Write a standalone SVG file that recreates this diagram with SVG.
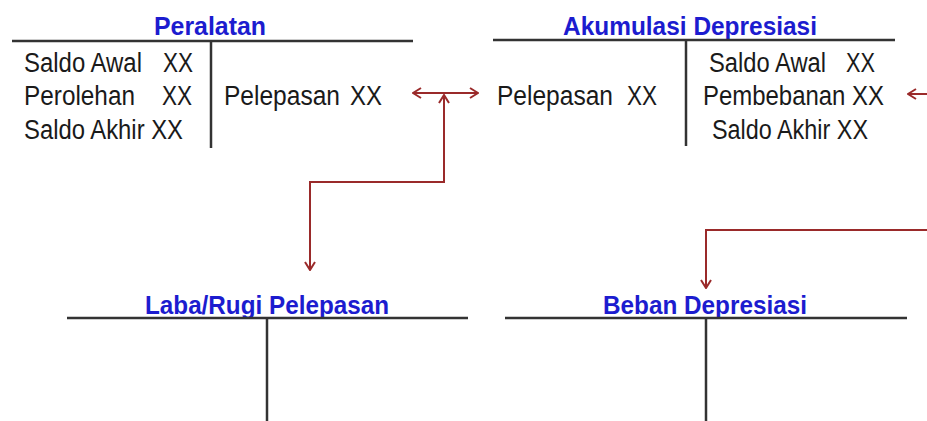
<svg xmlns="http://www.w3.org/2000/svg" width="927" height="421" viewBox="0 0 927 421">
  <style>
    .title { font-family: "Liberation Sans", Arial, sans-serif; font-weight: bold; font-size: 26px; fill: #1c1ccf; }
    .entry { font-family: "Liberation Sans", Arial, sans-serif; font-size: 27px; fill: #1a1a1a; }
    .rule { stroke: #333333; stroke-width: 2.5; fill: none; }
    .flow { stroke: #9a2a2a; stroke-width: 2; fill: none; }
  </style>
  <defs>
    <marker id="head" viewBox="0 0 10 12" refX="9" refY="6" markerWidth="10" markerHeight="12" markerUnits="userSpaceOnUse" orient="auto-start-reverse">
      <path d="M1,1 L9,6 L1,11" fill="none" stroke="#9a2a2a" stroke-width="2"/>
    </marker>
  </defs>
  <rect width="927" height="421" fill="#ffffff"/>

  <!-- T-account: Peralatan -->
  <g id="peralatan">
    <text class="title" x="154" y="35" textLength="112" lengthAdjust="spacingAndGlyphs">Peralatan</text>
    <line class="rule" x1="12" y1="41" x2="413" y2="41"/>
    <line class="rule" x1="211" y1="41" x2="211" y2="148"/>
    <text class="entry" y="72"><tspan x="24" textLength="118" lengthAdjust="spacingAndGlyphs">Saldo Awal</tspan><tspan x="163" textLength="30" lengthAdjust="spacingAndGlyphs">XX</tspan></text>
    <text class="entry" y="105"><tspan x="24" textLength="111" lengthAdjust="spacingAndGlyphs">Perolehan</tspan><tspan x="162" textLength="30" lengthAdjust="spacingAndGlyphs">XX</tspan></text>
    <text class="entry" x="24" y="139" textLength="159" lengthAdjust="spacingAndGlyphs">Saldo Akhir XX</text>
    <text class="entry" y="105"><tspan x="224" textLength="116" lengthAdjust="spacingAndGlyphs">Pelepasan</tspan><tspan x="350" textLength="32" lengthAdjust="spacingAndGlyphs">XX</tspan></text>
  </g>

  <!-- T-account: Akumulasi Depresiasi -->
  <g id="akumulasi-depresiasi">
    <text class="title" x="563" y="35" textLength="254" lengthAdjust="spacingAndGlyphs">Akumulasi Depresiasi</text>
    <line class="rule" x1="493" y1="40" x2="895" y2="40"/>
    <line class="rule" x1="686" y1="40" x2="686" y2="146"/>
    <text class="entry" y="105"><tspan x="497" textLength="116" lengthAdjust="spacingAndGlyphs">Pelepasan</tspan><tspan x="627" textLength="30" lengthAdjust="spacingAndGlyphs">XX</tspan></text>
    <text class="entry" y="72"><tspan x="709" textLength="117" lengthAdjust="spacingAndGlyphs">Saldo Awal</tspan><tspan x="846" textLength="29" lengthAdjust="spacingAndGlyphs">XX</tspan></text>
    <text class="entry" x="703" y="105" textLength="181" lengthAdjust="spacingAndGlyphs">Pembebanan XX</text>
    <text class="entry" x="712" y="139" textLength="156" lengthAdjust="spacingAndGlyphs">Saldo Akhir XX</text>
  </g>

  <!-- T-account: Laba/Rugi Pelepasan -->
  <g id="laba-rugi-pelepasan">
    <text class="title" x="145" y="314" textLength="244" lengthAdjust="spacingAndGlyphs">Laba/Rugi Pelepasan</text>
    <line class="rule" x1="67" y1="318" x2="468" y2="318"/>
    <line class="rule" x1="267" y1="318" x2="267" y2="421"/>
  </g>

  <!-- T-account: Beban Depresiasi -->
  <g id="beban-depresiasi">
    <text class="title" x="603" y="314" textLength="204" lengthAdjust="spacingAndGlyphs">Beban Depresiasi</text>
    <line class="rule" x1="505" y1="318" x2="907" y2="318"/>
    <line class="rule" x1="706" y1="318" x2="706" y2="421"/>
  </g>

  <!-- Posting flows between accounts -->
  <g id="connectors">
    <path class="flow" d="M413,93 H478" marker-start="url(#head)" marker-end="url(#head)"/>
    <path class="flow" d="M444,95 V182 H310 V270" marker-start="url(#head)" marker-end="url(#head)"/>
    <path class="flow" d="M927,94 H908" marker-end="url(#head)"/>
    <path class="flow" d="M927,230 H706 V288" marker-end="url(#head)"/>
  </g>
</svg>
